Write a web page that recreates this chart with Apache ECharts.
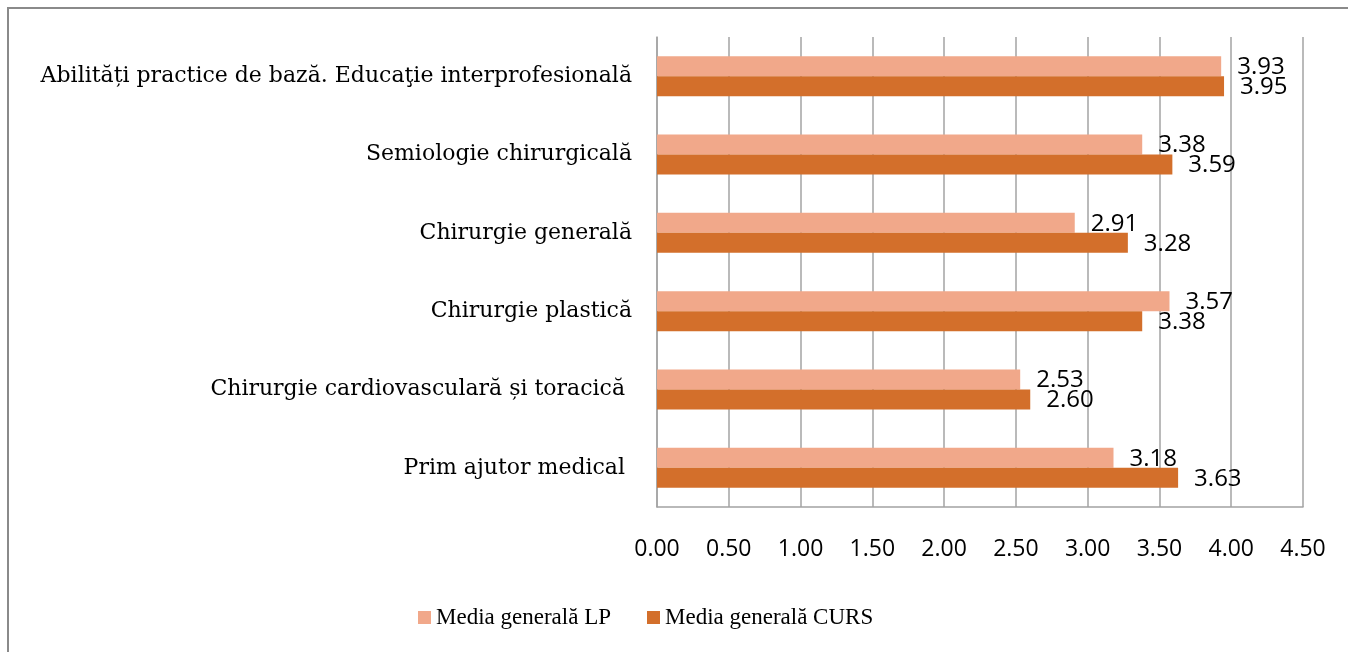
<!DOCTYPE html>
<html>
<head>
<meta charset="utf-8">
<script src="https://cdn.jsdelivr.net/npm/echarts@6/dist/echarts.min.js"></script>
<style>
  html, body { margin: 0; padding: 0; background: #fff; }
  #chart { width: 1348px; height: 652px; }
</style>
</head>
<body>
<div id="chart"></div>
<script>
// categories, bottom to top (category y axis grows upward)
const categories = [
  'Prim ajutor medical ',
  'Chirurgie cardiovasculară și toracică ',
  'Chirurgie plastică',
  'Chirurgie generală',
  'Semiologie chirurgicală',
  'Abilități practice de bază. Educaţie interprofesională'
]
const seriesNames = ['Media generală LP', 'Media generală CURS']
const mediaLP = [3.18, 2.53, 3.57, 2.91, 3.38, 3.93]
const mediaCURS = [3.63, 2.60, 3.38, 3.28, 3.59, 3.95]
const xTicks = [0, 0.5, 1, 1.5, 2, 2.5, 3, 3.5, 4, 4.5]

const serif = '"Liberation Serif", "DejaVu Serif", serif'
const wideSerif = '"DejaVu Serif", "Liberation Serif", serif'
const sans = '"Open Sans", "Liberation Sans", sans-serif'
const gray = '#a3a3a3'

let chart = echarts.init(document.getElementById('chart'))

let valueLabel = {
  show: true,
  position: 'right',
  distance: 16,
  offset: [0, 1],
  color: '#000',
  fontFamily: sans,
  fontSize: 24,
  formatter: p => p.value.toFixed(2)
}

let option = {
  animation: false,
  backgroundColor: '#fff',
  graphic: [{
    type: 'polyline',
    shape: { points: [[8, 652], [8, 8], [1348, 8]] },
    style: { stroke: '#8a8a8a', lineWidth: 2, fill: null },
    silent: true
  }],
  grid: {
    left: 657,
    right: 45,
    top: 37,
    bottom: 145
  },
  legend: {
    data: seriesNames,
    left: 413,
    top: 601,
    icon: 'rect',
    itemWidth: 13,
    itemHeight: 13,
    itemGap: 36,
    textStyle: { fontFamily: serif, fontSize: 23, color: '#000' }
  },
  xAxis: {
    type: 'value',
    min: xTicks[0],
    max: xTicks[xTicks.length - 1],
    interval: 0.5,
    axisLine: { show: true, lineStyle: { color: gray, width: 1.5 } },
    axisTick: { show: false },
    splitLine: { show: true, lineStyle: { color: gray, width: 1.5 } },
    axisLabel: {
      margin: 31,
      color: '#000',
      fontFamily: sans,
      fontSize: 23,
      formatter: v => v.toFixed(2)
    }
  },
  yAxis: {
    type: 'category',
    data: categories,
    axisLine: { show: true, lineStyle: { color: gray, width: 1.5 } },
    axisTick: { show: false },
    axisLabel: {
      margin: 25,
      color: '#000',
      fontFamily: wideSerif,
      fontSize: 22
    }
  },
  series: [
    {
      name: seriesNames[0],
      type: 'bar',
      data: mediaLP,
      barWidth: 20,
      barGap: '0%',
      itemStyle: { color: '#f1a88a' },
      label: valueLabel
    },
    {
      name: seriesNames[1],
      type: 'bar',
      data: mediaCURS,
      barWidth: 20,
      barGap: '0%',
      itemStyle: { color: '#d36f2b' },
      label: valueLabel
    }
  ]
}

chart.setOption(option)
</script>
</body>
</html>
